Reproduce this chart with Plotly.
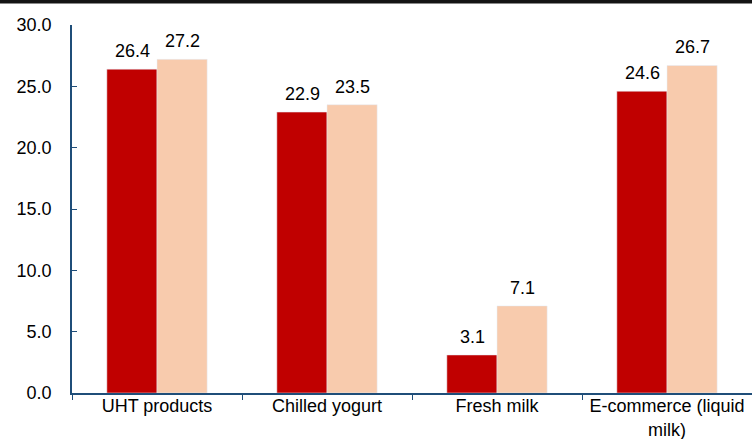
import plotly.graph_objects as go

categories = ["UHT products", "Chilled yogurt", "Fresh milk", "E-commerce (liquid<br>milk)"]
series_a = [26.4, 22.9, 3.1, 24.6]
series_b = [27.2, 23.5, 7.1, 26.7]
y_ticks = [0, 5, 10, 15, 20, 25, 30]

axis_color = "#1F4E79"
font = dict(family="Liberation Sans, Arial, sans-serif", size=18, color="#000000")

fig = go.Figure()
fig.add_trace(go.Bar(x=categories, y=series_a, name="A", marker_color="#C00000",
                     cliponaxis=False, hoverinfo="skip"))
fig.add_trace(go.Bar(x=categories, y=series_b, name="B", marker_color="#F8CBAD",
                     cliponaxis=False, hoverinfo="skip"))

# value labels above each bar (offset half a bar width left/right)
bar_half = 25
annotations = []
for vals, shift in ((series_a, -bar_half), (series_b, bar_half)):
    for c, v in zip(categories, vals):
        annotations.append(dict(x=c, y=v, xref="x", yref="y", text=f"{v:.1f}",
                                showarrow=False, yanchor="bottom", xanchor="center",
                                xshift=shift, yshift=6, font=font))

plot_w = 752 - 72
fig.update_layout(
    width=752, height=439,
    margin=dict(l=72, r=0, t=25, b=46, autoexpand=False),
    barmode="group", bargap=0.41, bargroupgap=0,
    plot_bgcolor="white", paper_bgcolor="white",
    showlegend=False, font=font,
    annotations=annotations,
    shapes=[dict(type="rect", xref="paper", yref="paper", x0=-72 / plot_w, x1=1,
                 yanchor=1, ysizemode="pixel", y0=21.5, y1=26,
                 fillcolor="#141414", line_width=0)],
)
fig.update_xaxes(showline=True, linecolor=axis_color, linewidth=1.5,
                 ticks="outside", ticklen=5, tickcolor=axis_color,
                 tickson="boundaries", showgrid=False, tickfont=font,
                 ticklabelstandoff=-4, automargin=False)
fig.update_yaxes(range=[0, 30], tickvals=y_ticks, tickformat=".1f",
                 showline=True, linecolor=axis_color, linewidth=1.5,
                 ticks="inside", ticklen=5, tickcolor=axis_color,
                 showgrid=False, zeroline=False, tickfont=font,
                 ticklabelstandoff=15, automargin=False)

fig.write_html("out.html", config={"displayModeBar": False},
               post_script="document.body.style.margin='0px';")
